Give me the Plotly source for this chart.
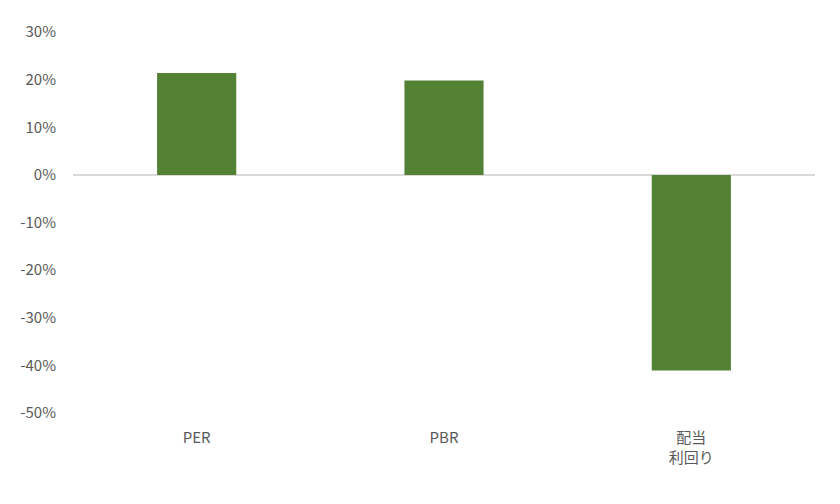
import plotly.graph_objects as go

# データ
categories = ["PER", "PBR", "配当<br>利回り"]
values = [0.214, 0.198, -0.411]
tick_vals = [0.3, 0.2, 0.1, 0.0, -0.1, -0.2, -0.3, -0.4, -0.5]
tick_text = ["30%", "20%", "10%", "0%", "-10%", "-20%", "-30%", "-40%", "-50%"]

fig = go.Figure()
fig.add_trace(go.Bar(
    x=categories,
    y=values,
    marker=dict(color="#548235", line=dict(width=0)),
    width=0.32,
))

# ページ余白(8px)分をずらして合わせる
fig.update_layout(
    width=840, height=504,
    margin=dict(l=63, r=33, t=19, b=99),
    paper_bgcolor="white",
    plot_bgcolor="white",
    showlegend=False,
    font=dict(family="Noto Sans CJK JP, Noto Sans, sans-serif", size=15, color="#595959"),
)
fig.update_yaxes(
    range=[-0.5, 0.3],
    tickvals=tick_vals,
    ticktext=tick_text,
    showgrid=False,
    zeroline=True, zerolinecolor="#d9d9d9", zerolinewidth=1.5,
    showline=False,
    ticks="", ticklabelstandoff=16,
)
fig.update_xaxes(
    showgrid=False, showline=False, zeroline=False,
    ticks="", ticklabelstandoff=14,
    tickfont=dict(size=15),
)

fig.write_html("out.html")
